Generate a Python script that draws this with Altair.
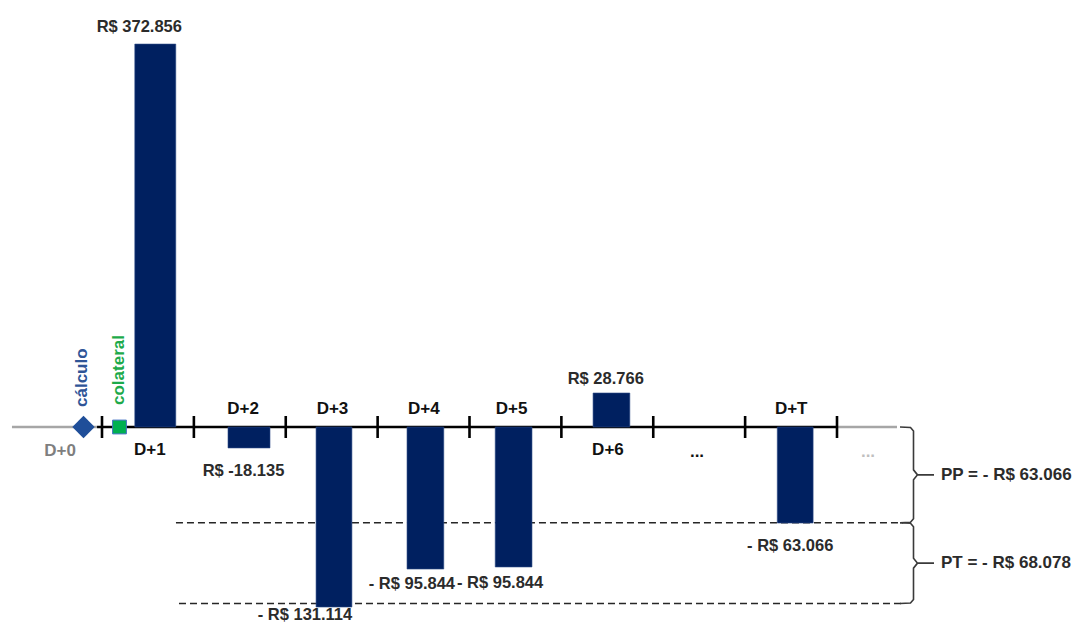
import altair as alt
import pandas as pd

# ---------------- data ----------------
days = ["D+1", "D+2", "D+3", "D+4", "D+5", "D+6", "D+T"]
slot = [1.58, 2.60, 3.525, 4.52, 5.48, 6.545, 8.545]          # position on the timeline (tick units)
bar_width = [0.446, 0.457, 0.39, 0.40, 0.40, 0.40, 0.39]
bar_height = [372.856, -20.4, -175.3, -138.3, -136.3, 33.1, -93.5]  # drawn (schematic) heights
bar_label = ["R$ 372.856", "R$ -18.135", "- R$ 131.114", "- R$ 95.844",
             "- R$ 95.844", "R$ 28.766", "- R$ 63.066"]
day_above = [False, True, True, True, True, False, True]
ticks = [1, 2, 3, 4, 5, 6, 7, 8, 9]
pp_level = -93.2
pt_level = -171.9
brace_labels = ["PP = - R$ 63.066", "PT = - R$ 68.078"]

# ---------------- layout helpers ----------------
W, H = 1071, 614
PX_U = 91.875      # pixels per tick unit
PX_V = 1.027       # pixels per value unit
X0 = 94            # pixel of tick 1
Y0 = 419           # pixel of value 0
xdom = [1 - X0 / PX_U, 1 + (W - X0) / PX_U]
ydom = [-(H - Y0) / PX_V, Y0 / PX_V]

def du(px):
    return px / PX_U

def dv(px):  # px downward -> value
    return -px / PX_V

FONT = "Liberation Sans"
xs = alt.Scale(domain=xdom, nice=False, zero=False)
ys = alt.Scale(domain=ydom, nice=False, zero=False)
X = lambda f: alt.X(f, type="quantitative", scale=xs, axis=None)
Y = lambda f: alt.Y(f, type="quantitative", scale=ys, axis=None)

# timeline
seg = pd.DataFrame({
    "u": [0.02, 0.946, 9.0],
    "u2": [0.946, 9.0, 9.653],
    "v": [0, 0, 0],
    "c": ["#A6A6A6", "#000000", "#A6A6A6"],
})
timeline = alt.Chart(seg).mark_rule(strokeWidth=2.5).encode(
    x=X("u"), x2="u2", y=Y("v"), color=alt.Color("c:N", scale=None))

tk = pd.DataFrame({"u": ticks, "v": [dv(-11)] * len(ticks), "v2": [dv(11)] * len(ticks)})
tick_marks = alt.Chart(tk).mark_rule(strokeWidth=2.6, color="#000000").encode(
    x=X("u"), y=Y("v"), y2="v2")

# bars
bars_df = pd.DataFrame({
    "day": days,
    "u": [s - w / 2 for s, w in zip(slot, bar_width)],
    "u2": [s + w / 2 for s, w in zip(slot, bar_width)],
    "v": [0] * len(days),
    "v2": bar_height,
})
bars = alt.Chart(bars_df).mark_rect(color="#002060", stroke="#2E4C86", strokeWidth=0.6).encode(
    x=X("u"), x2="u2", y=Y("v"), y2="v2")

# dashed reference lines
dash_df = pd.DataFrame({"u": [1.805, 1.838], "u2": [9.72, 9.72], "v": [pp_level, pt_level]})
dashes = alt.Chart(dash_df).mark_rule(strokeDash=[7, 4], strokeWidth=1.6, color="#262626").encode(
    x=X("u"), x2="u2", y=Y("v"))

# braces
u_vert = 1 + (913.5 - 102) / PX_U
rows = []
for bi, (top, bot) in enumerate([(0, pp_level), (pp_level, pt_level)]):
    mid = (top + bot) / 2
    pts = [(-13.5, top), (-3, top + dv(0.5)), (0, top + dv(4)),
           (0, mid + dv(-5)), (4, mid), (20.5, mid), (4, mid),
           (0, mid + dv(5)), (0, bot + dv(-4)), (-3, bot + dv(-0.5)), (-13.5, bot)]
    for k, (dx, v) in enumerate(pts):
        rows.append({"b": bi, "o": k, "u": u_vert + du(dx), "v": v})
braces = alt.Chart(pd.DataFrame(rows)).mark_line(color="#3A3A3A", strokeWidth=1.6).encode(
    x=X("u"), y=Y("v"), detail="b:N", order="o:Q")

# markers
diamond = alt.Chart(pd.DataFrame({"u": [1 + du(83.5 - 102)], "v": [0]})).mark_point(
    shape="diamond", filled=True, size=500, color="#1F4E99", opacity=1).encode(x=X("u"), y=Y("v"))
square = alt.Chart(pd.DataFrame({"u": [1 + du(119.5 - 102)], "v": [0]})).mark_point(
    shape="square", filled=True, size=190, fill="#00B050", stroke="#4472C4", strokeWidth=1,
    opacity=1).encode(x=X("u"), y=Y("v"))

# rotated labels
rot_df = pd.DataFrame({
    "u": [1 + du(82 - 102), 1 + du(118.5 - 102)],
    "v": [dv(-20), dv(-22)],
    "t": ["cálculo", "colateral"],
    "c": ["#2F5597", "#1DAA4A"],
})
rot_text = alt.Chart(rot_df).mark_text(angle=270, align="left", baseline="middle", font=FONT,
                                       fontWeight="bold", fontSize=17).encode(
    x=X("u"), y=Y("v"), text="t:N", color=alt.Color("c:N", scale=None))

# day labels
day_dx = [-5.5, -6, -1.5, -1.5, -2, -3.5, -4]
dl = pd.DataFrame({
    "u": [s + du(d) for s, d in zip(slot, day_dx)] + [1 + du(60 - 102)],
    "v": [dv(-18.5) if a else dv(23) for a in day_above] + [dv(24)],
    "t": days + ["D+0"],
    "c": ["#111111"] * len(days) + ["#7F7F7F"],
})
day_text = alt.Chart(dl).mark_text(align="center", baseline="middle", font=FONT,
                                   fontWeight="bold", fontSize=17).encode(
    x=X("u"), y=Y("v"), text="t:N", color=alt.Color("c:N", scale=None))

# value labels
val_dx = [-16, -5.5, -29, -13.5, -13.5, -5.7, -5]
val_dy = [-17, 23, 8, 15, 16, -14, 23]
vl = pd.DataFrame({
    "u": [s + du(d) for s, d in zip(slot, val_dx)],
    "v": [h + dv(d) for h, d in zip(bar_height, val_dy)],
    "t": bar_label,
})
val_text = alt.Chart(vl).mark_text(align="center", baseline="middle", font=FONT,
                                   fontWeight="bold", fontSize=16.5, color="#2B2B2B").encode(
    x=X("u"), y=Y("v"), text="t:N")

# ellipses
dots = pd.DataFrame({"u": [1 + du(697 - 102), 1 + du(868 - 102)], "v": [dv(30), dv(30)],
                     "t": ["...", "..."], "c": ["#111111", "#BFBFBF"]})
dots_text = alt.Chart(dots).mark_text(align="center", baseline="alphabetic", font=FONT,
                                      fontWeight="bold", fontSize=17).encode(
    x=X("u"), y=Y("v"), text="t:N", color=alt.Color("c:N", scale=None))

# brace labels
bl = pd.DataFrame({
    "u": [u_vert + du(27.5)] * 2,
    "v": [(0 + pp_level) / 2, (pp_level + pt_level) / 2],
    "t": brace_labels,
})
brace_text = alt.Chart(bl).mark_text(align="left", baseline="middle", font=FONT,
                                     fontWeight="bold", fontSize=17, color="#2B2B2B").encode(
    x=X("u"), y=Y("v"), text="t:N")

chart = alt.layer(
    dashes, timeline, tick_marks, bars, braces, diamond, square,
    rot_text, day_text, val_text, dots_text, brace_text
).properties(
    width=W, height=H, padding=0, autosize=alt.AutoSizeParams(type="none"), background="white"
).configure_view(stroke=None)

chart.save("out.html", embed_options={"renderer": "svg", "actions": False})
